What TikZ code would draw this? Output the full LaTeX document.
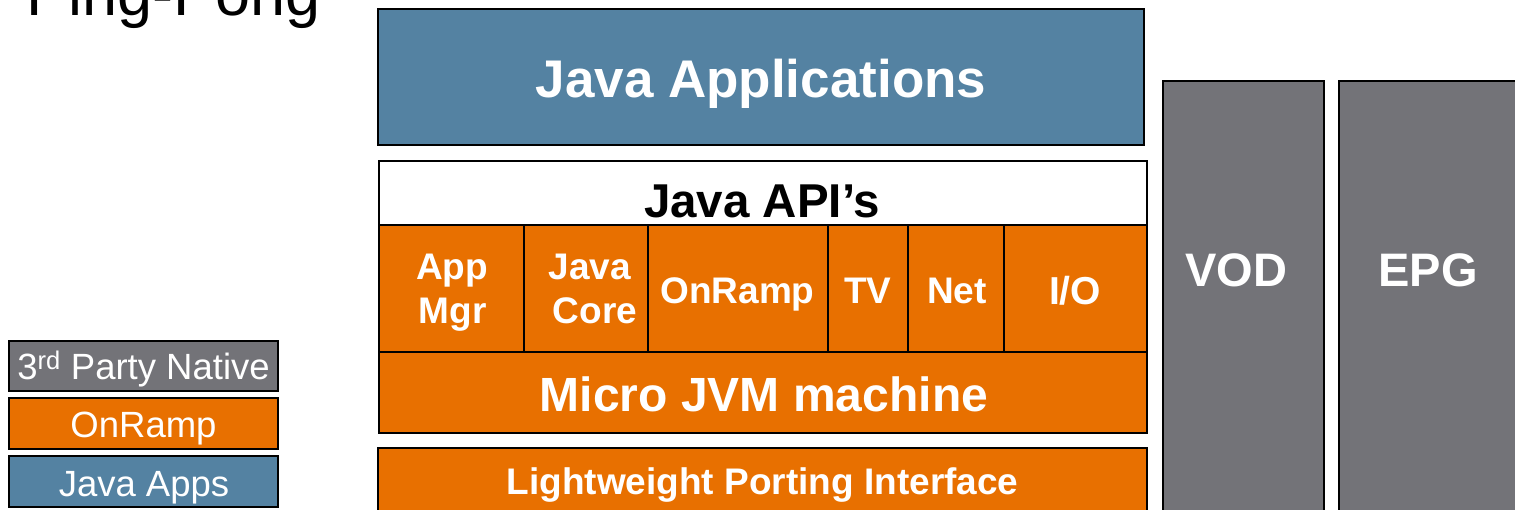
\documentclass[tikz,border=0pt]{standalone}
\usepackage{fontspec}
\setmainfont{Liberation Sans}
\definecolor{jblue}{HTML}{5482A2}
\definecolor{jorange}{HTML}{E87000}
\definecolor{jgray}{HTML}{737378}
\begin{document}
\begin{tikzpicture}[x=1pt,y=-1pt,
  blk/.style={draw=black,line width=2.5pt,inner sep=0pt,outer sep=0pt},
  cell/.style={blk,fill=jorange,line width=2pt,minimum height=127pt},
  legbox/.style={blk,minimum width=269pt},
  txt/.style={inner sep=0pt,outer sep=0pt,anchor=base},
  wtxt/.style={txt,text=white},
  fb/.style={font={\fontsize{#1}{#1}\selectfont\bfseries}},
  fr/.style={font={\fontsize{#1}{#1}\selectfont}}
  ]
\useasboundingbox (0,0) rectangle (1515,509);
\clip (0,0) rectangle (1515,509);

% title (cut off at the top)
\node[txt,anchor=base west,fr=63] (title) at (26,15) {Ping-Pong};

% Java applications
\node[blk,fill=jblue,minimum width=766pt,minimum height=136pt] (apps) at (761,77) {};
\node[wtxt,fb=53] (appsT) at (761,97) {Java Applications};

% Java API's
\node[blk,fill=white,minimum width=768pt,minimum height=64pt] (api) at (763,193) {};
\node[txt,fb=47.5] (apiT) at (762,217) {Java API’s};

% API cells
\node[cell,minimum width=145pt] (appmgr) at (451.5,288.5) {};
\node[cell,minimum width=124pt] (core) at (586,288.5) {};
\node[cell,minimum width=180pt] (onramp) at (738,288.5) {};
\node[cell,minimum width=80pt] (tv) at (868,288.5) {};
\node[cell,minimum width=96pt] (net) at (956,288.5) {};
\node[cell,minimum width=143pt] (io) at (1075.5,288.5) {};

\node[wtxt,fb=37] (appmgrA) at (452,279) {App};
\node[wtxt,fb=37] (appmgrB) at (452.5,323) {Mgr};
\node[wtxt,fb=37] (coreA) at (590,279) {Java};
\node[wtxt,fb=37] (coreB) at (595,323) {Core};
\node[wtxt,fb=37] (onrampT) at (737.5,303) {OnRamp};
\node[wtxt,fb=37] (tvT) at (868,303) {TV};
\node[wtxt,fb=37] (netT) at (957,303) {Net};
\node[wtxt,fb=39] (ioT) at (1075,304) {I/O};

% Micro JVM
\node[blk,fill=jorange,minimum width=768pt,minimum height=81pt] (jvm) at (763,392.5) {};
\node[wtxt,fb=48] (jvmT) at (764,411) {Micro JVM machine};

% Lightweight porting interface
\node[blk,fill=jorange,minimum width=769pt,minimum height=90pt] (lpi) at (762.5,493) {};
\node[wtxt,fb=37] (lpiT) at (762.5,494) {Lightweight Porting Interface};

% VOD / EPG
\node[blk,fill=jgray,minimum width=161pt,minimum height=450pt] (vod) at (1243.5,306) {};
\node[wtxt,fb=47] (vodT) at (1236,286) {VOD};
\node[blk,fill=jgray,minimum width=181pt,minimum height=450pt] (epg) at (1429.5,306) {};
\node[wtxt,fb=47] (epgT) at (1428,286) {EPG};

% legend
\node[legbox,fill=jgray,minimum height=50pt] (leg1) at (143.5,366) {};
\node[wtxt,fr=36.5] (leg1T) at (143.5,379) {3\textsuperscript{rd} Party Native};
\node[legbox,fill=jorange,minimum height=51pt] (leg2) at (143.5,423.5) {};
\node[wtxt,fr=36.5] (leg2T) at (143.5,437) {OnRamp};
\node[legbox,fill=jblue,minimum height=51pt] (leg3) at (143.5,481.5) {};
\node[wtxt,fr=36.5] (leg3T) at (144,496) {Java Apps};
\end{tikzpicture}
\end{document}
